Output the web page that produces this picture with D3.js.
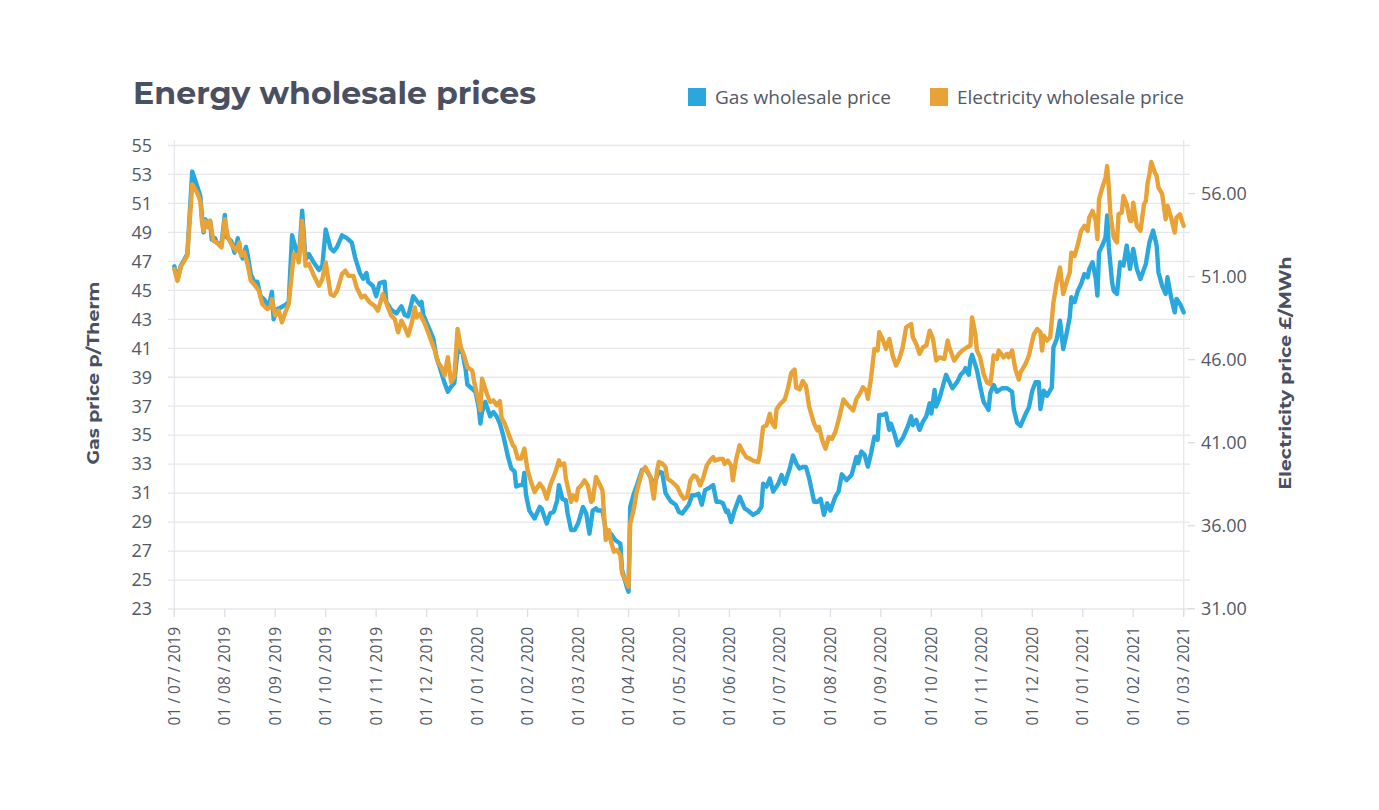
<!DOCTYPE html>
<html><head><meta charset="utf-8">
<script src="https://cdn.jsdelivr.net/npm/d3@7"></script>
<style>
html,body{margin:0;padding:0;background:#fff;}
svg{display:block;}
</style></head>
<body><svg id="c" width="1379" height="810"></svg>
<script>
// ---------------- DATA ----------------
const title = "Energy wholesale prices";
const seriesNames = ["Gas wholesale price", "Electricity wholesale price"];
const leftAxisTitle = "Gas price p/Therm";
const rightAxisTitle = "Electricity price £/MWh";
const leftTicks = [23,25,27,29,31,33,35,37,39,41,43,45,47,49,51,53,55];
const rightTicks = [31,36,41,46,51,56];
const monthTicks = ["2019-07-01","2019-08-01","2019-09-01","2019-10-01","2019-11-01","2019-12-01",
"2020-01-01","2020-02-01","2020-03-01","2020-04-01","2020-05-01","2020-06-01","2020-07-01",
"2020-08-01","2020-09-01","2020-10-01","2020-11-01","2020-12-01","2021-01-01","2021-02-01","2021-03-01"];

const gasDates = ["2019-07-01","2019-07-03","2019-07-05","2019-07-09","2019-07-12","2019-07-15","2019-07-17","2019-07-18","2019-07-19","2019-07-20",
"2019-07-22","2019-07-23","2019-07-24","2019-07-26","2019-07-27","2019-07-30","2019-08-01","2019-08-02","2019-08-05","2019-08-07",
"2019-08-09","2019-08-10","2019-08-12","2019-08-14","2019-08-15","2019-08-17","2019-08-19","2019-08-21","2019-08-23","2019-08-25",
"2019-08-28","2019-08-30","2019-08-31","2019-09-02","2019-09-04","2019-09-07","2019-09-09","2019-09-11","2019-09-13","2019-09-15",
"2019-09-17","2019-09-19","2019-09-21","2019-09-24","2019-09-27","2019-09-29","2019-10-01","2019-10-04","2019-10-06","2019-10-08",
"2019-10-11","2019-10-14","2019-10-17","2019-10-19","2019-10-22","2019-10-24","2019-10-26","2019-10-27","2019-10-30","2019-11-01",
"2019-11-03","2019-11-06","2019-11-07","2019-11-10","2019-11-13","2019-11-16","2019-11-18","2019-11-20","2019-11-23","2019-11-25",
"2019-11-27","2019-11-28","2019-11-29","2019-12-02","2019-12-05","2019-12-07","2019-12-09","2019-12-12","2019-12-14","2019-12-16",
"2019-12-18","2019-12-20","2019-12-23","2019-12-25","2019-12-26","2019-12-29","2019-12-31","2020-01-02","2020-01-03","2020-01-04",
"2020-01-06","2020-01-09","2020-01-11","2020-01-13","2020-01-15","2020-01-17","2020-01-20","2020-01-22","2020-01-24","2020-01-25",
"2020-01-27","2020-01-29","2020-01-30","2020-01-31","2020-02-02","2020-02-05","2020-02-08","2020-02-09","2020-02-12","2020-02-14",
"2020-02-16","2020-02-18","2020-02-19","2020-02-21","2020-02-23","2020-02-24","2020-02-26","2020-02-28","2020-03-01","2020-03-04",
"2020-03-06","2020-03-08","2020-03-10","2020-03-12","2020-03-13","2020-03-16","2020-03-18","2020-03-21","2020-03-24","2020-03-27",
"2020-03-28","2020-03-31","2020-04-01","2020-04-02","2020-04-04","2020-04-06","2020-04-09","2020-04-11","2020-04-14","2020-04-16",
"2020-04-19","2020-04-21","2020-04-23","2020-04-26","2020-04-29","2020-05-01","2020-05-03","2020-05-05","2020-05-07","2020-05-09",
"2020-05-11","2020-05-13","2020-05-15","2020-05-17","2020-05-20","2020-05-22","2020-05-24","2020-05-26","2020-05-28","2020-05-30",
"2020-05-31","2020-06-02","2020-06-04","2020-06-07","2020-06-10","2020-06-12","2020-06-15","2020-06-18","2020-06-20","2020-06-21",
"2020-06-23","2020-06-25","2020-06-26","2020-06-27","2020-06-30","2020-07-02","2020-07-04","2020-07-07","2020-07-09","2020-07-11",
"2020-07-13","2020-07-15","2020-07-17","2020-07-19","2020-07-22","2020-07-24","2020-07-26","2020-07-28","2020-07-30","2020-08-01",
"2020-08-04","2020-08-06","2020-08-08","2020-08-11","2020-08-14","2020-08-17","2020-08-18","2020-08-20","2020-08-22","2020-08-24",
"2020-08-26","2020-08-28","2020-08-30","2020-08-31","2020-09-02","2020-09-04","2020-09-06","2020-09-07","2020-09-09","2020-09-11",
"2020-09-14","2020-09-17","2020-09-19","2020-09-20","2020-09-22","2020-09-24","2020-09-26","2020-09-28","2020-09-30","2020-10-01",
"2020-10-03","2020-10-04","2020-10-06","2020-10-08","2020-10-10","2020-10-12","2020-10-14","2020-10-17","2020-10-19","2020-10-21",
"2020-10-22","2020-10-24","2020-10-25","2020-10-26","2020-10-29","2020-10-31","2020-11-02","2020-11-05","2020-11-06","2020-11-08",
"2020-11-10","2020-11-13","2020-11-16","2020-11-19","2020-11-20","2020-11-22","2020-11-24","2020-11-27","2020-11-29","2020-12-01",
"2020-12-03","2020-12-05","2020-12-06","2020-12-08","2020-12-10","2020-12-13","2020-12-14","2020-12-16","2020-12-18","2020-12-20",
"2020-12-22","2020-12-24","2020-12-25","2020-12-27","2020-12-29","2020-12-31","2021-01-02","2021-01-04","2021-01-05","2021-01-07",
"2021-01-09","2021-01-10","2021-01-11","2021-01-13","2021-01-15","2021-01-16","2021-01-17","2021-01-19","2021-01-20","2021-01-22",
"2021-01-24","2021-01-26","2021-01-28","2021-01-29","2021-01-30","2021-02-01","2021-02-03","2021-02-05","2021-02-08","2021-02-10",
"2021-02-12","2021-02-14","2021-02-15","2021-02-17","2021-02-19","2021-02-20","2021-02-22","2021-02-24","2021-02-25","2021-02-27",
"2021-03-01"];
const gasValues = [46.66,45.74,46.7,47.5,53.2,52.2,51.5,50.1,49.0,49.9,
49.5,49.8,48.5,48.6,48.3,48.2,50.2,48.7,48.4,47.6,
48.6,47.8,47.2,48.0,47.5,46.1,45.6,45.6,44.6,44.4,
43.9,44.9,43.0,43.7,43.8,44.0,44.2,48.8,48.0,47.1,
50.5,47.1,47.5,46.9,46.4,46.7,49.2,47.9,47.7,48.0,
48.8,48.6,48.3,47.3,46.2,45.8,46.2,45.6,45.3,44.6,
45.5,45.6,44.2,43.65,43.4,43.9,43.3,43.2,44.6,44.3,
44.0,44.2,43.3,42.5,41.7,40.4,39.7,38.6,38.0,38.35,
38.6,40.9,40.7,39.5,38.5,38.2,38.0,36.9,35.8,36.6,
37.3,36.3,36.6,36.3,35.8,35.0,33.5,32.7,32.5,31.45,
31.55,31.55,32.4,30.9,29.8,29.25,30.05,29.95,28.9,29.6,
29.7,30.5,31.55,30.6,30.5,29.6,28.45,28.45,28.9,30.05,
29.6,28.2,29.8,29.95,29.8,29.8,28.45,28.2,27.75,27.5,
25.7,24.5,24.2,30.05,30.9,31.55,32.6,32.7,32.1,31.55,
32.5,32.4,31.0,30.45,30.2,29.7,29.6,29.9,30.2,30.85,
30.85,30.95,30.2,31.2,31.4,31.55,30.4,30.4,30.3,29.7,
29.8,29.0,29.8,30.75,29.95,29.8,29.5,29.7,30.05,31.65,
31.45,32.0,31.55,31.1,31.65,32.25,31.65,32.7,33.6,33.05,
32.7,32.8,32.8,32.0,30.4,30.4,30.6,29.5,30.3,29.8,
30.75,31.1,32.3,31.9,32.25,33.5,33.06,33.87,33.64,32.83,
33.75,34.9,34.67,36.4,36.4,36.5,35.37,35.8,35.13,34.3,
34.8,35.6,36.3,35.7,36.06,35.37,35.94,36.3,37.2,36.5,
38.13,36.98,37.55,38.36,39.17,38.7,38.24,38.7,39.17,39.4,
39.63,39.17,40.2,40.55,39.5,38.36,37.32,36.75,37.9,38.47,
38.0,38.24,38.24,38.0,36.8,35.85,35.65,36.46,36.92,38.07,
38.65,38.65,36.8,38.07,37.72,38.3,41.06,41.64,42.9,40.95,
41.99,43.14,44.52,44.18,44.98,45.44,46.13,45.9,46.48,46.94,
45.79,44.64,47.63,48.09,48.67,50.17,47.98,45.56,44.98,44.75,
46.94,46.71,48.09,47.29,46.48,47.86,46.48,45.79,46.82,48.32,
49.13,48.09,46.25,45.33,44.75,45.9,44.52,43.48,44.41,44.06,
43.48];

const elecDates = ["2019-07-01","2019-07-03","2019-07-05","2019-07-09","2019-07-12","2019-07-15","2019-07-17","2019-07-18","2019-07-19","2019-07-20",
"2019-07-22","2019-07-23","2019-07-25","2019-07-27","2019-07-30","2019-08-01","2019-08-03","2019-08-05","2019-08-08","2019-08-10",
"2019-08-11","2019-08-13","2019-08-15","2019-08-17","2019-08-19","2019-08-22","2019-08-24","2019-08-27","2019-08-29","2019-08-30",
"2019-09-01","2019-09-03","2019-09-05","2019-09-07","2019-09-09","2019-09-12","2019-09-14","2019-09-15","2019-09-17","2019-09-19",
"2019-09-21","2019-09-24","2019-09-27","2019-09-29","2019-10-01","2019-10-04","2019-10-06","2019-10-08","2019-10-11","2019-10-13",
"2019-10-15","2019-10-18","2019-10-20","2019-10-23","2019-10-25","2019-10-28","2019-10-31","2019-11-02","2019-11-05","2019-11-08",
"2019-11-10","2019-11-12","2019-11-14","2019-11-16","2019-11-18","2019-11-20","2019-11-22","2019-11-24","2019-11-25","2019-11-27",
"2019-11-30","2019-12-03","2019-12-06","2019-12-08","2019-12-10","2019-12-12","2019-12-14","2019-12-16","2019-12-18","2019-12-20",
"2019-12-22","2019-12-24","2019-12-26","2019-12-29","2019-12-30","2020-01-02","2020-01-03","2020-01-04","2020-01-07","2020-01-09",
"2020-01-11","2020-01-13","2020-01-15","2020-01-16","2020-01-18","2020-01-21","2020-01-23","2020-01-24","2020-01-26","2020-01-28",
"2020-01-30","2020-02-01","2020-02-03","2020-02-05","2020-02-08","2020-02-10","2020-02-12","2020-02-14","2020-02-17","2020-02-19",
"2020-02-20","2020-02-22","2020-02-23","2020-02-26","2020-02-27","2020-02-29","2020-03-01","2020-03-03","2020-03-05","2020-03-07",
"2020-03-09","2020-03-10","2020-03-12","2020-03-14","2020-03-16","2020-03-18","2020-03-20","2020-03-21","2020-03-23","2020-03-25",
"2020-03-27","2020-03-28","2020-03-31","2020-04-01","2020-04-02","2020-04-04","2020-04-06","2020-04-09","2020-04-11","2020-04-14",
"2020-04-16","2020-04-18","2020-04-19","2020-04-21","2020-04-23","2020-04-24","2020-04-27","2020-04-30","2020-05-02","2020-05-04",
"2020-05-06","2020-05-08","2020-05-10","2020-05-12","2020-05-14","2020-05-16","2020-05-18","2020-05-20","2020-05-22","2020-05-23",
"2020-05-26","2020-05-28","2020-05-29","2020-05-31","2020-06-02","2020-06-03","2020-06-05","2020-06-07","2020-06-09","2020-06-11",
"2020-06-13","2020-06-15","2020-06-18","2020-06-19","2020-06-21","2020-06-23","2020-06-25","2020-06-26","2020-06-28","2020-06-29",
"2020-07-01","2020-07-04","2020-07-06","2020-07-08","2020-07-10","2020-07-11","2020-07-13","2020-07-15","2020-07-17","2020-07-19",
"2020-07-22","2020-07-24","2020-07-25","2020-07-27","2020-07-29","2020-07-31","2020-08-02","2020-08-04","2020-08-06","2020-08-09",
"2020-08-11","2020-08-15","2020-08-17","2020-08-19","2020-08-21","2020-08-23","2020-08-24","2020-08-26","2020-08-28","2020-08-30",
"2020-08-31","2020-09-02","2020-09-04","2020-09-06","2020-09-08","2020-09-10","2020-09-12","2020-09-14","2020-09-16","2020-09-19",
"2020-09-20","2020-09-22","2020-09-24","2020-09-26","2020-09-28","2020-09-30","2020-10-02","2020-10-04","2020-10-06","2020-10-09",
"2020-10-11","2020-10-12","2020-10-15","2020-10-18","2020-10-20","2020-10-23","2020-10-25","2020-10-26","2020-10-28","2020-10-29",
"2020-10-31","2020-11-02","2020-11-04","2020-11-06","2020-11-07","2020-11-08","2020-11-10","2020-11-11","2020-11-14","2020-11-16",
"2020-11-17","2020-11-19","2020-11-21","2020-11-23","2020-11-24","2020-11-27","2020-11-29","2020-12-02","2020-12-04","2020-12-06",
"2020-12-07","2020-12-08","2020-12-10","2020-12-12","2020-12-14","2020-12-16","2020-12-18","2020-12-20","2020-12-22","2020-12-24",
"2020-12-25","2020-12-27","2020-12-29","2020-12-31","2021-01-02","2021-01-04","2021-01-05","2021-01-07","2021-01-09","2021-01-10",
"2021-01-11","2021-01-13","2021-01-15","2021-01-16","2021-01-17","2021-01-18","2021-01-20","2021-01-22","2021-01-23","2021-01-25",
"2021-01-26","2021-01-28","2021-01-30","2021-01-31","2021-02-01","2021-02-03","2021-02-05","2021-02-07","2021-02-08","2021-02-09",
"2021-02-10","2021-02-11","2021-02-13","2021-02-14","2021-02-15","2021-02-17","2021-02-19","2021-02-20","2021-02-22","2021-02-24",
"2021-02-25","2021-02-27","2021-02-28","2021-03-01"];
const elecValues = [51.46,50.75,51.6,52.26,56.56,56.06,55.56,54.26,53.76,54.36,
53.96,54.36,53.16,53.06,52.76,54.46,53.36,52.96,52.56,53.06,
52.26,52.46,51.76,50.75,50.55,50.15,49.35,49.05,49.15,49.65,
48.65,48.95,48.25,48.85,49.35,52.36,52.26,51.86,54.36,51.66,
51.76,51.06,50.45,50.85,51.86,49.95,49.85,50.15,51.16,51.36,
51.05,51.05,50.35,49.75,49.85,49.45,49.25,48.95,49.95,49.15,
48.65,48.45,47.65,48.35,47.95,47.45,48.15,49.15,48.55,48.75,
48.15,47.35,46.55,45.85,45.55,45.05,46.15,44.65,44.95,47.85,
46.75,46.25,45.55,45.35,44.75,43.45,42.95,44.85,43.95,43.45,
43.55,43.25,43.5,42.5,42.15,41.34,40.84,40.74,40.04,40.04,
40.64,39.34,38.63,38.03,38.54,38.24,37.63,38.43,39.23,39.94,
39.64,39.74,38.84,37.43,37.83,37.53,38.24,38.43,38.73,38.43,
37.43,37.53,38.93,38.54,38.13,35.13,35.73,35.13,34.43,34.53,
34.23,33.13,32.53,32.32,36.13,36.93,38.13,39.23,39.53,38.93,
37.63,39.34,39.84,39.74,39.53,38.84,38.63,38.33,37.9,37.63,
37.73,38.73,39.02,38.92,38.43,38.92,39.62,39.92,40.13,39.92,
40.02,40.02,39.72,39.92,39.62,38.73,40.02,40.84,40.44,40.13,
40.04,39.92,39.83,40.24,41.94,42.04,42.74,42.24,41.94,43.01,
43.31,43.61,44.31,45.21,45.41,44.31,44.21,44.71,44.41,43.14,
42.14,41.74,41.94,41.14,40.64,41.34,41.24,41.64,42.34,43.6,
43.34,42.94,43.64,43.94,44.34,44.14,43.64,44.94,46.65,46.55,
47.65,47.25,46.65,47.25,46.25,45.65,46.05,46.75,47.95,48.15,
47.35,46.95,46.35,46.75,46.85,47.75,47.25,45.95,46.14,46.05,
47.15,46.75,45.95,46.35,46.55,46.75,46.85,48.55,47.55,46.55,
46.14,45.15,44.64,44.54,45.24,46.25,46.05,46.55,46.14,46.35,
46.14,46.55,45.4,44.8,45.24,45.75,46.25,47.55,47.85,47.65,
46.55,47.45,47.15,47.35,49.45,50.65,51.55,49.95,50.65,51.25,
52.45,52.25,52.95,53.76,54.06,53.76,54.56,54.96,54.36,53.26,
55.66,56.36,56.96,57.66,56.36,54.76,53.36,53.06,54.76,54.86,
55.86,55.36,54.36,54.36,55.46,54.06,53.76,55.36,55.56,56.66,
57.16,57.91,57.27,57.06,56.36,56.0,54.46,55.26,54.56,53.66,
54.56,54.76,54.36,54.06];

// ---------------- CHART ----------------
const gasColor = "#2aa8de", elecColor = "#e8a236";
const textColor = "#525866", titleColor = "#4a5062", gridColor = "#e6e7ec";
const parse = d3.timeParse("%Y-%m-%d");
const start = parse(monthTicks[0]);
function monthPos(d){ // months since start, fractional within month
  const m0 = d3.timeMonth.floor(d);
  const m1 = d3.timeMonth.offset(m0,1);
  return d3.timeMonth.count(start, m0) + (d - m0)/(m1 - m0);
}
const x = d3.scaleLinear().domain([0, monthTicks.length-1]).range([174.3, 1183.7]);
const yL = d3.scaleLinear().domain([23,55]).range([609,145.5]);
const yR = d3.scaleLinear().domain([31,58.9]).range([608.7,145.5]);

const svg = d3.select("#c");
const font = "'Open Sans', 'Noto Sans', sans-serif";

// title
svg.append("text").attr("x",133).attr("y",104).text(title)
  .attr("font-family","'Montserrat','Open Sans',sans-serif").attr("font-weight",700)
  .attr("font-size",31).attr("fill",titleColor)
  .attr("textLength",403).attr("lengthAdjust","spacingAndGlyphs");

// legend
const legX = [688, 930];
const legW = [176, 227];
seriesNames.forEach((n,i)=>{
  svg.append("rect").attr("x",legX[i]).attr("y",88).attr("width",18).attr("height",18)
    .attr("fill", i===0?gasColor:elecColor);
  svg.append("text").attr("x",legX[i]+27).attr("y",104).text(n)
    .attr("font-family",font).attr("font-size",19).attr("fill",textColor)
    .attr("textLength",legW[i]).attr("lengthAdjust","spacingAndGlyphs");
});

// gridlines (left ticks)
svg.append("g").selectAll("line").data(leftTicks).join("line")
  .attr("x1",168).attr("x2",1190).attr("y1",d=>yL(d)).attr("y2",d=>yL(d))
  .attr("stroke",gridColor).attr("stroke-width",1.3);

// vertical axis lines
svg.append("line").attr("x1",x(0)).attr("x2",x(0)).attr("y1",140).attr("y2",616)
  .attr("stroke",gridColor).attr("stroke-width",1.3);
svg.append("line").attr("x1",x(20)).attr("x2",x(20)).attr("y1",140).attr("y2",616)
  .attr("stroke",gridColor).attr("stroke-width",1.3);

// x ticks
svg.append("g").selectAll("line").data(monthTicks).join("line")
  .attr("x1",(d,i)=>x(i)).attr("x2",(d,i)=>x(i)).attr("y1",609).attr("y2",617)
  .attr("stroke","#dcdde3").attr("stroke-width",1.3);

// left tick labels
svg.append("g").selectAll("text").data(leftTicks).join("text")
  .attr("x",152).attr("y",d=>yL(d)).attr("dy","0.35em").attr("text-anchor","end")
  .text(d=>d).attr("font-family",font).attr("font-size",18).attr("fill",textColor);

// right ticks + labels
svg.append("g").selectAll("line").data(rightTicks).join("line")
  .attr("x1",1188).attr("x2",1195).attr("y1",d=>yR(d)).attr("y2",d=>yR(d))
  .attr("stroke","#dcdde3").attr("stroke-width",1.3);
svg.append("g").selectAll("text").data(rightTicks).join("text")
  .attr("x",1201).attr("y",d=>yR(d)).attr("dy","0.35em")
  .text(d=>d3.format(".2f")(d)).attr("font-family",font).attr("font-size",18).attr("fill",textColor);

// x labels
const fmt = d3.timeFormat("%d / %m / %Y");
svg.append("g").selectAll("text").data(monthTicks).join("text")
  .attr("transform",(d,i)=>`translate(${x(i)+5.5},627) rotate(-90)`)
  .attr("text-anchor","end").text(d=>fmt(parse(d)))
  .attr("font-family",font).attr("font-size",15.5).attr("fill",textColor);

// axis titles
svg.append("text").attr("transform","translate(99,373) rotate(-90)").attr("text-anchor","middle")
  .text(leftAxisTitle).attr("font-family","'Montserrat','Open Sans',sans-serif").attr("font-weight",700)
  .attr("font-size",17).attr("fill",titleColor).attr("textLength",183).attr("lengthAdjust","spacingAndGlyphs");
svg.append("text").attr("transform","translate(1291,373) rotate(-90)").attr("text-anchor","middle")
  .text(rightAxisTitle).attr("font-family","'Montserrat','Open Sans',sans-serif").attr("font-weight",700)
  .attr("font-size",17).attr("fill",titleColor).attr("textLength",233).attr("lengthAdjust","spacingAndGlyphs");

// lines
const gasData = gasDates.map((d,i)=>({p:monthPos(parse(d)), v:gasValues[i]}));
const elecData = elecDates.map((d,i)=>({p:monthPos(parse(d)), v:elecValues[i]}));
svg.append("path").datum(gasData)
  .attr("d", d3.line().x(d=>x(d.p)).y(d=>yL(d.v)))
  .attr("fill","none").attr("stroke",gasColor).attr("stroke-width",4.4)
  .attr("stroke-linejoin","round").attr("stroke-linecap","round");
svg.append("path").datum(elecData)
  .attr("d", d3.line().x(d=>x(d.p)).y(d=>yR(d.v)))
  .attr("fill","none").attr("stroke",elecColor).attr("stroke-width",4.4)
  .attr("stroke-linejoin","round").attr("stroke-linecap","round");
</script></body></html>
